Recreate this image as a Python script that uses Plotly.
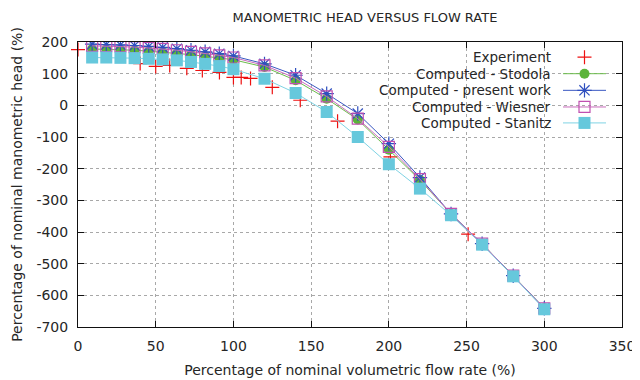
import plotly.graph_objects as go

# ---------------- data ----------------
exp_x = [0, 40, 50, 59, 70, 80, 91, 100, 105, 111, 125, 143, 167, 201, 251]
exp_y = [176, 132, 123, 126, 117, 110, 104, 88, 88, 85, 57, 16, -50, -163, -407]

comp_x = [9.1, 18.2, 27.3, 36.4, 45.5, 54.5, 63.6, 72.7, 81.8, 90.9, 100,
          120, 140, 160, 180, 200, 220, 240, 260, 280, 300]
stodola = [178, 177, 176, 174, 171, 168, 164, 160, 155, 150, 144,
           121, 79, 21, -45, -140, -236, -343, -437, -538, -641]
present = [193, 192, 191, 189, 186, 183, 179, 174, 169, 163, 156,
           131, 95, 37, -26, -121, -228, -343, -437, -538, -641]
wiesner = [188, 187, 186, 184, 181, 178, 174, 169, 164, 158, 151,
           126, 86, 28, -42, -131, -233, -343, -437, -538, -641]
stanitz = [151, 151, 150, 149, 147, 145, 142, 137, 131, 124, 114,
           84, 39, -21, -100, -186, -263, -347, -440, -540, -644]

names = ["Experiment", "Computed - Stodola", "Computed - present work",
         "Computed - Wiesner", "Computed - Stanitz"]
x_ticks = [0, 50, 100, 150, 200, 250, 300, 350]
y_ticks = [200, 100, 0, -100, -200, -300, -400, -500, -600, -700]

# ---------------- styles ----------------
FONT = "DejaVu Sans"
TXT = "#262626"
styles = [
    dict(color="#ee1111", symbol="cross-thin-open", size=10, line=None),
    dict(color="#5cb43a", symbol="circle", size=10, line="#6cbc4c"),
    dict(color="#2f4fbf", symbol="asterisk-open", size=12, line="#3a58c2"),
    dict(color="#c050b0", symbol="square-open", size=11, line="#c86cbc"),
    dict(color="#66c8dc", symbol="square", size=12, line="#7fd3e4"),
]

def marker_of(st):
    outline = st["symbol"].endswith("open")
    return dict(symbol=st["symbol"], size=st["size"], color=st["color"],
                line=dict(color=st["color"], width=1.2 if outline else 0))

fig = go.Figure()
series = [(exp_x, exp_y), (comp_x, stodola), (comp_x, present), (comp_x, wiesner), (comp_x, stanitz)]
for (xs, ys), st, nm in zip(series, styles, names):
    if st["line"] is None:
        fig.add_trace(go.Scatter(x=xs, y=ys, mode="markers", name=nm, showlegend=False,
                                 marker=marker_of(st), cliponaxis=False))
    else:
        fig.add_trace(go.Scatter(x=xs, y=ys, mode="lines+markers", name=nm, showlegend=False,
                                 line=dict(color=st["line"], width=1),
                                 marker=marker_of(st)))

# ---------------- layout geometry (screen pixels; page body has an 8px margin) ----------------
OFF = 8
FW, FH = 640, 380
L, R, T, B = 78 - OFF, 622 - OFF, 41.5 - OFF, 327.5 - OFF
W, H = R - L, B - T
def px(xs): return (xs - OFF - L) / W
def py(ys): return (B - (ys - OFF)) / H

row_y = [56.7, 73.3, 90.0, 106.7, 122.7]
for nm, st, yy in zip(names, styles, row_y):
    fig.add_annotation(x=px(553), y=py(yy), xref="paper", yref="paper", text=nm,
                       showarrow=False, xanchor="right", yanchor="middle",
                       font=dict(family=FONT, size=13.5, color=TXT))
    if st["line"] is not None:
        fig.add_trace(go.Scatter(x=[px(563), px(606)], y=[py(yy), py(yy)], mode="lines",
                                 xaxis="x2", yaxis="y2", showlegend=False, hoverinfo="skip",
                                 line=dict(color=st["line"], width=1)))
    fig.add_trace(go.Scatter(x=[px(584.5)], y=[py(yy)], mode="markers",
                             xaxis="x2", yaxis="y2", showlegend=False, hoverinfo="skip",
                             marker=marker_of(st)))

# opaque key background (covers grid, under data)
fig.add_shape(type="rect", xref="paper", yref="paper", x0=px(340), x1=1, y0=py(131), y1=1,
              fillcolor="white", line=dict(width=0), layer="between")

axis_common = dict(showline=True, linecolor="#111", linewidth=1, mirror="allticks",
                   ticks="inside", ticklen=6, tickcolor="#111", tickwidth=1,
                   showgrid=True, gridcolor="#a8a8a8", griddash="dot", gridwidth=1,
                   zeroline=False, automargin=False,
                   tickfont=dict(family=FONT, size=14, color=TXT))

fig.update_layout(
    template="none",
    width=FW, height=FH,
    margin=dict(l=L, r=FW - R, t=T, b=FH - B, autoexpand=False),
    plot_bgcolor="white", paper_bgcolor="white",
    title=dict(text="MANOMETRIC HEAD VERSUS FLOW RATE", x=(365 - OFF) / FW, xanchor="center",
               y=1 - (17 - OFF) / FH, yanchor="middle",
               font=dict(family=FONT, size=13, color=TXT)),
    xaxis=dict(range=[0, 350], tickvals=x_ticks, ticktext=[str(v) for v in x_ticks],
               ticklabelstandoff=6,
               title=dict(text="Percentage of nominal volumetric flow rate (%)",
                          font=dict(family=FONT, size=14, color=TXT), standoff=12),
               **axis_common),
    yaxis=dict(range=[-700, 200], tickvals=y_ticks, ticktext=[str(v) for v in y_ticks],
               ticklabelstandoff=6,
               title=dict(text="Percentage of nominal manometric head (%)",
                          font=dict(family=FONT, size=14, color=TXT), standoff=10),
               **axis_common),
    xaxis2=dict(range=[0, 1], overlaying="x", visible=False, fixedrange=True),
    yaxis2=dict(range=[0, 1], overlaying="y", visible=False, fixedrange=True),
)

fig.write_html("out.html")
